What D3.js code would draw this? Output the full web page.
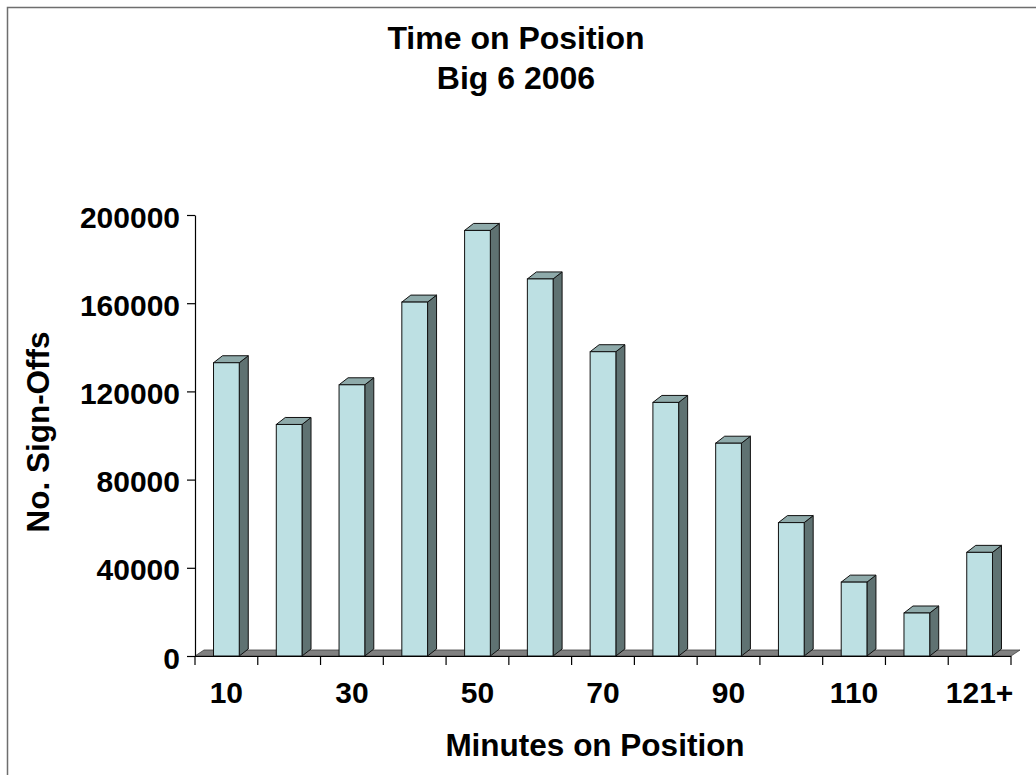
<!DOCTYPE html>
<html><head><meta charset="utf-8">
<script src="https://cdn.jsdelivr.net/npm/d3@7"></script>
<style>
body{margin:0;background:#fff;}
svg{display:block;}
text{font-family:"Liberation Sans",Arial,sans-serif;font-weight:bold;fill:#000;}
</style>
</head><body><svg id="c" width="1036" height="775"></svg>
<script>
const categories = ["10","20","30","40","50","60","70","80","90","100","110","120","121+"];
const values = [133000,105000,123000,160500,193000,171000,138000,115000,96500,60500,33500,19500,47000];
const yTicks = [0,40000,80000,120000,160000,200000];
const xTickLabels = ["10","30","50","70","90","110","121+"];
const titleLines = ["Time on Position","Big 6 2006"];
const xTitle = "Minutes on Position";
const yTitle = "No. Sign-Offs";

const svg = d3.select("#c");
const W = 1036, H = 775;
const x0 = 195, x1 = 1011, yBase = 656, yTop = 215;
const dx = 9, dy = 7, fdx = 9, fdy = 6;
const x = d3.scaleBand().domain(categories).range([x0, x1]).padding(0);
const y = d3.scaleLinear().domain([0, 200000]).range([yBase, yTop]);
const fs = 30, fsTitle = 32, fsAxisTitle = 31.5;

// border
svg.append("path").attr("d", `M7.5,${H} V7.5 H${W}`).attr("fill","none").attr("stroke","#6e6e6e").attr("stroke-width",1.5);

// titles
svg.selectAll("text.title").data(titleLines).join("text")
  .attr("class","title").attr("x",516).attr("y",(d,i)=>49+i*40)
  .attr("text-anchor","middle").attr("font-size",fsTitle).text(d=>d);

// floor
svg.append("polygon")
  .attr("points", [[x0,yBase],[x1,yBase],[x1+fdx,yBase-fdy],[x0+fdx,yBase-fdy]].map(p=>p.join(",")).join(" "))
  .attr("fill","#808080").attr("stroke","#404040").attr("stroke-width",0.8);

// bars
const bw = x.bandwidth()*0.41;
const g = svg.append("g");
categories.forEach((c,i)=>{
  const v = values[i];
  const fx = x(c) + x.bandwidth()/2 - bw/2;
  const ty = y(v);
  g.append("polygon")
    .attr("points",[[fx+bw,yBase],[fx+bw,ty],[fx+bw+dx,ty-dy],[fx+bw+dx,yBase-dy]].map(p=>p.join(",")).join(" "))
    .attr("fill","#5f7272").attr("stroke","#111").attr("stroke-width",1).attr("stroke-linejoin","round");
  g.append("polygon")
    .attr("points",[[fx,ty],[fx+dx,ty-dy],[fx+bw+dx,ty-dy],[fx+bw,ty]].map(p=>p.join(",")).join(" "))
    .attr("fill","#8eaaaa").attr("stroke","#111").attr("stroke-width",1).attr("stroke-linejoin","round");
  g.append("rect").attr("x",fx).attr("y",ty).attr("width",bw).attr("height",yBase-ty)
    .attr("fill","#bde0e3").attr("stroke","#111").attr("stroke-width",1);
});

// y axis
const ya = svg.append("g").attr("transform",`translate(${x0},0)`)
  .call(d3.axisLeft(y).tickValues(yTicks).tickSize(8).tickSizeOuter(0).tickPadding(7).tickFormat(d3.format("d")));
ya.select(".domain").attr("stroke","#000").attr("stroke-width",1.2);
ya.selectAll(".tick line").attr("stroke","#000").attr("stroke-width",1.2);
ya.selectAll(".tick text").attr("font-size",fs).attr("font-family",null).attr("dy","0.4em");

// x axis line and boundary ticks
svg.append("line").attr("x1",x0-8).attr("x2",x1).attr("y1",yBase+0.5).attr("y2",yBase+0.5).attr("stroke","#000").attr("stroke-width",1.2);
const bounds = d3.range(categories.length+1).map(i=>x0+i*x.step());
svg.selectAll("line.xt").data(bounds).join("line").attr("class","xt")
  .attr("x1",d=>d).attr("x2",d=>d).attr("y1",yBase).attr("y2",yBase+9)
  .attr("stroke","#000").attr("stroke-width",1.2);

// x tick labels
svg.selectAll("text.xl").data(xTickLabels).join("text").attr("class","xl")
  .attr("x",d=>x(d)+x.bandwidth()/2).attr("y",703)
  .attr("text-anchor","middle").attr("font-size",fs).text(d=>d);

// axis titles
svg.append("text").attr("x",595).attr("y",756).attr("text-anchor","middle").attr("font-size",fsAxisTitle).text(xTitle);
svg.append("text").attr("transform","translate(49,432) rotate(-90)").attr("text-anchor","middle").attr("font-size",fsAxisTitle).text(yTitle);
</script>
</body></html>
